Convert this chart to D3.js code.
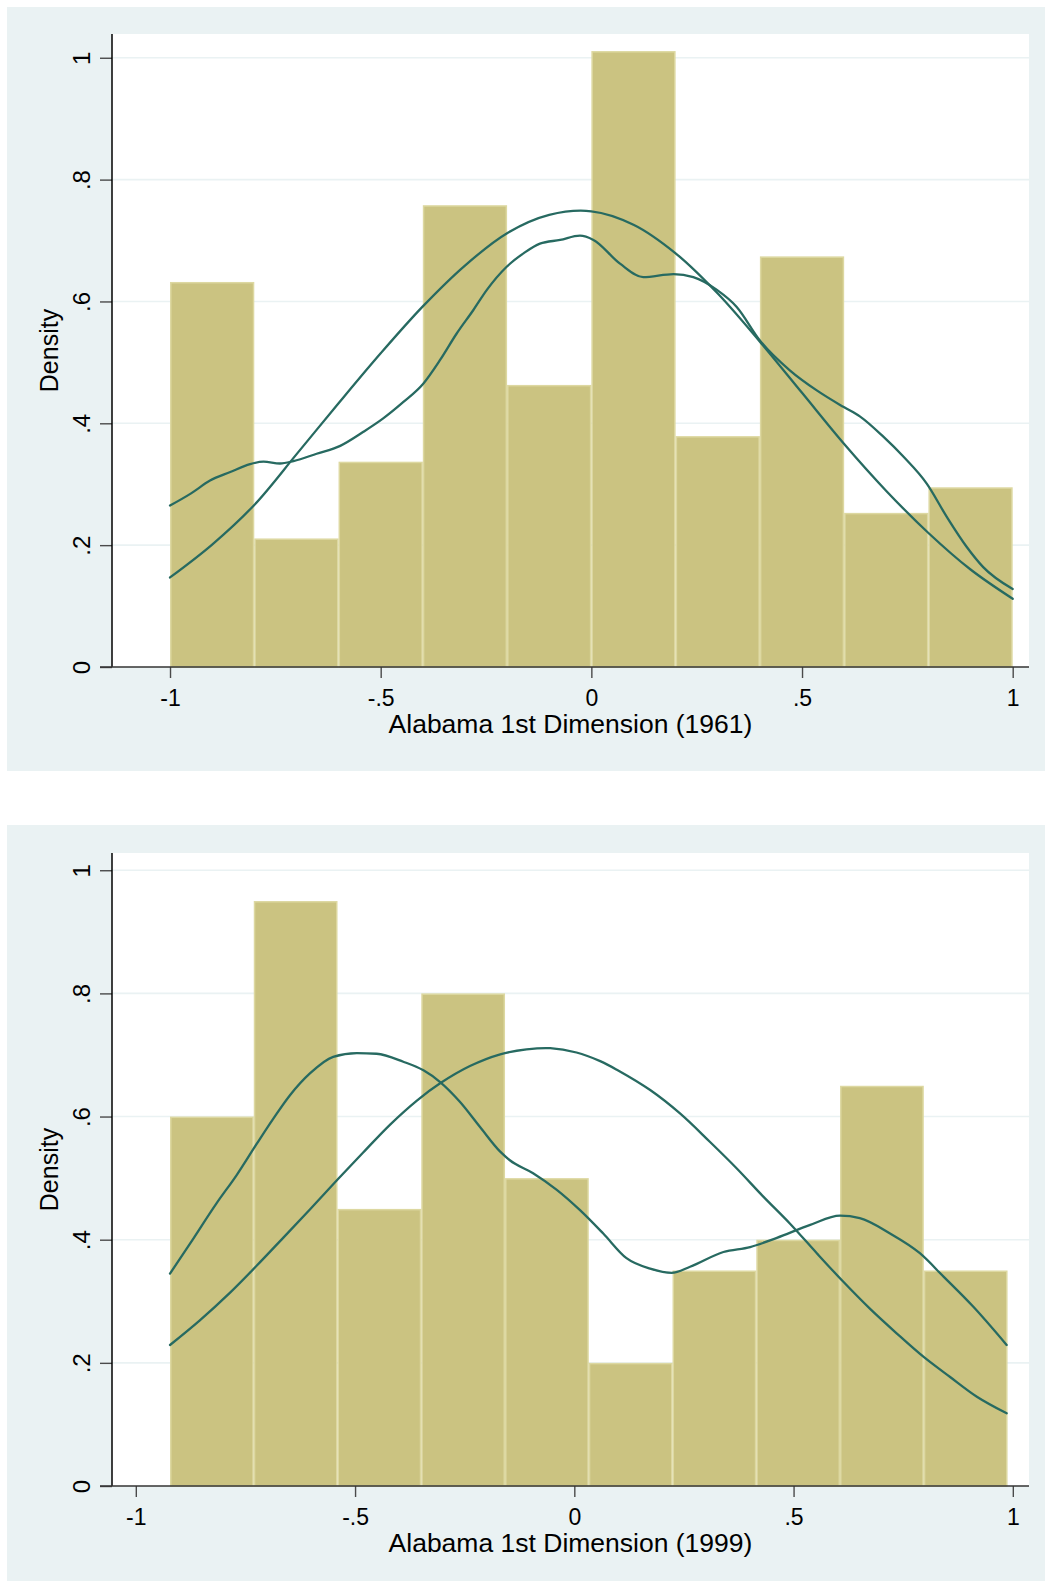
<!DOCTYPE html>
<html>
<head>
<meta charset="utf-8">
<script src="https://cdn.jsdelivr.net/npm/d3@7"></script>
<style>
  html, body { margin: 0; padding: 0; background: #ffffff; }
  svg { display: block; }
  text { font-family: "Liberation Sans", Arial, Helvetica, sans-serif; fill: #000; }
</style>
</head>
<body>
<svg id="chart" width="1045" height="1581"></svg>
<script>
// ---------------- DATA ----------------
const xTickValues = [-1, -0.5, 0, 0.5, 1];
const xTickLabels = ["-1", "-.5", "0", ".5", "1"];
const yTickValues = [0, 0.2, 0.4, 0.6, 0.8, 1];
const yTickLabels = ["0", ".2", ".4", ".6", ".8", "1"];

// 1961 histogram
const binEdges1961 = [-1, -0.8, -0.6, -0.4, -0.2, 0, 0.2, 0.4, 0.6, 0.8, 1];
const density1961 = [0.632, 0.211, 0.337, 0.758, 0.463, 1.011, 0.379, 0.674, 0.253, 0.295];

// 1961 normal density overlay
const normalX1961 = [-1, -0.9, -0.8, -0.7, -0.6, -0.5, -0.4, -0.3, -0.2, -0.1, 0, 0.1, 0.2, 0.3, 0.4, 0.5, 0.6, 0.7, 0.8, 0.9, 1];
const normalY1961 = [0.147, 0.201, 0.266, 0.349, 0.433, 0.515, 0.592, 0.659, 0.712, 0.742, 0.748, 0.726, 0.679, 0.613, 0.534, 0.450, 0.366, 0.289, 0.220, 0.160, 0.112];

// 1961 kernel density overlay
const kernelX1961 = [-1, -0.95, -0.905, -0.857, -0.81, -0.778, -0.739, -0.707, -0.652, -0.596, -0.541, -0.494, -0.446, -0.399, -0.359, -0.32, -0.28, -0.248, -0.201, -0.161, -0.122, -0.074, -0.027, 0.005, 0.068, 0.123, 0.195, 0.242, 0.298, 0.345, 0.4, 0.471, 0.535, 0.598, 0.638, 0.693, 0.741, 0.796, 0.844, 0.891, 0.93, 1];
const kernelY1961 = [0.265, 0.285, 0.306, 0.320, 0.333, 0.337, 0.334, 0.338, 0.350, 0.363, 0.386, 0.408, 0.435, 0.465, 0.504, 0.547, 0.586, 0.619, 0.657, 0.679, 0.695, 0.701, 0.708, 0.701, 0.662, 0.640, 0.645, 0.640, 0.619, 0.591, 0.536, 0.487, 0.454, 0.427, 0.411, 0.378, 0.345, 0.301, 0.246, 0.197, 0.164, 0.128];

// 1999 histogram
const binEdges1999 = [-0.922, -0.731, -0.540, -0.349, -0.158, 0.033, 0.224, 0.415, 0.606, 0.797, 0.988];
const density1999 = [0.60, 0.95, 0.45, 0.80, 0.50, 0.20, 0.35, 0.40, 0.65, 0.35];

// 1999 normal density overlay
const normalX1999 = [-0.922, -0.854, -0.785, -0.724, -0.664, -0.603, -0.542, -0.481, -0.42, -0.359, -0.306, -0.238, -0.169, -0.109, -0.055, 0.005, 0.059, 0.097, 0.173, 0.241, 0.309, 0.37, 0.431, 0.492, 0.553, 0.613, 0.674, 0.735, 0.796, 0.857, 0.918, 0.986];
const normalY1999 = [0.229, 0.269, 0.314, 0.358, 0.403, 0.449, 0.496, 0.542, 0.587, 0.626, 0.654, 0.682, 0.701, 0.709, 0.711, 0.704, 0.690, 0.676, 0.643, 0.605, 0.559, 0.516, 0.470, 0.426, 0.378, 0.332, 0.288, 0.248, 0.210, 0.177, 0.145, 0.118];

// 1999 kernel density overlay
const kernelX1999 = [-0.922, -0.876, -0.816, -0.77, -0.724, -0.686, -0.648, -0.603, -0.55, -0.496, -0.451, -0.39, -0.344, -0.306, -0.261, -0.215, -0.169, -0.147, -0.094, -0.04, 0.013, 0.066, 0.119, 0.173, 0.222, 0.264, 0.34, 0.401, 0.462, 0.538, 0.606, 0.651, 0.72, 0.788, 0.842, 0.91, 0.986];
const kernelY1999 = [0.345, 0.394, 0.459, 0.505, 0.556, 0.597, 0.635, 0.670, 0.697, 0.703, 0.702, 0.689, 0.675, 0.656, 0.624, 0.583, 0.543, 0.529, 0.508, 0.481, 0.448, 0.410, 0.370, 0.353, 0.346, 0.356, 0.380, 0.388, 0.403, 0.424, 0.439, 0.435, 0.410, 0.378, 0.340, 0.291, 0.229];

const panels = [
  { title: "Alabama 1st Dimension (1961)", edges: binEdges1961, dens: density1961,
    normalX: normalX1961, normalY: normalY1961, kernelX: kernelX1961, kernelY: kernelY1961 },
  { title: "Alabama 1st Dimension (1999)", edges: binEdges1999, dens: density1999,
    normalX: normalX1999, normalY: normalY1999, kernelX: kernelX1999, kernelY: kernelY1999 }
];

// ---------------- LAYOUT ----------------
const layout = [
  { bg: [7, 7, 1038, 764], plot: { left: 112, right: 1029, top: 34, bottom: 667 },
    xDomain: [-1.1377, 1.0387], yDomain: [0, 1.039] },
  { bg: [7, 825, 1038, 756], plot: { left: 112, right: 1029, top: 853, bottom: 1486 },
    xDomain: [-1.0543, 1.0369], yDomain: [0, 1.028] }
];

const COLORS = {
  bg: "#eaf2f3", grid: "#eaf2f3", bar: "#cbc381", barEdge: "#ddd8a1",
  line: "#276a61", axis: "#000000", tick: "#4a4a4a"
};

const svg = d3.select("#chart");

panels.forEach((p, i) => {
  const L = layout[i];
  const P = L.plot;
  const g = svg.append("g");

  g.append("rect").attr("x", L.bg[0]).attr("y", L.bg[1]).attr("width", L.bg[2]).attr("height", L.bg[3])
    .attr("fill", COLORS.bg);
  g.append("rect").attr("x", P.left).attr("y", P.top).attr("width", P.right - P.left).attr("height", P.bottom - P.top)
    .attr("fill", "#ffffff");

  const x = d3.scaleLinear().domain(L.xDomain).range([P.left, P.right]);
  const y = d3.scaleLinear().domain(L.yDomain).range([P.bottom, P.top]);

  // grid
  g.append("g").selectAll("line").data(yTickValues.filter(v => v > 0)).join("line")
    .attr("x1", P.left).attr("x2", P.right)
    .attr("y1", d => y(d)).attr("y2", d => y(d))
    .attr("stroke", COLORS.grid).attr("stroke-width", 1.6);

  // bars
  const bins = p.dens.map((d, k) => ({ x0: p.edges[k], x1: p.edges[k + 1], v: d }));
  g.append("g").selectAll("rect").data(bins).join("rect")
    .attr("x", d => x(d.x0) + 0.75)
    .attr("width", d => x(d.x1) - x(d.x0) - 1.5)
    .attr("y", d => y(d.v) + 0.75)
    .attr("height", d => y(0) - y(d.v) - 0.75)
    .attr("fill", COLORS.bar)
    .attr("stroke", COLORS.barEdge).attr("stroke-width", 1.5);

  // density lines
  const kLine = d3.line().x(d => x(d[0])).y(d => y(d[1])).curve(d3.curveMonotoneX);
  const nLine = d3.line().x(d => x(d[0])).y(d => y(d[1])).curve(d3.curveCatmullRom.alpha(0.5));
  const kern = p.kernelX.map((v, k) => [v, p.kernelY[k]]);
  const norm = p.normalX.map((v, k) => [v, p.normalY[k]]);
  [[kern, kLine], [norm, nLine]].forEach(([arr, gen]) => {
    g.append("path").datum(arr).attr("d", gen)
      .attr("fill", "none").attr("stroke", COLORS.line).attr("stroke-width", 2.3)
      .attr("stroke-linejoin", "round").attr("stroke-linecap", "round");
  });

  // y axis
  const yAxis = d3.axisLeft(y).tickValues(yTickValues).tickSize(12).tickFormat((d, k) => yTickLabels[k]);
  const ya = g.append("g").attr("transform", `translate(${P.left},0)`).call(yAxis);
  ya.select(".domain").remove();
  ya.selectAll(".tick line").attr("stroke", COLORS.tick).attr("stroke-width", 1.4);
  ya.selectAll(".tick text")
    .attr("x", null).attr("dy", null)
    .attr("text-anchor", "middle")
    .attr("transform", "translate(-22,0) rotate(-90)")
    .style("font-size", "24px").style("font-family", "'Liberation Sans', Arial, sans-serif")
    .attr("fill", "#000");
  g.append("line").attr("x1", P.left).attr("x2", P.left).attr("y1", P.top).attr("y2", P.bottom)
    .attr("stroke", COLORS.axis).attr("stroke-width", 1.5);

  // x axis
  const xAxis = d3.axisBottom(x).tickValues(xTickValues).tickSize(11).tickFormat((d, k) => xTickLabels[k]);
  const xa = g.append("g").attr("transform", `translate(0,${P.bottom})`).call(xAxis);
  xa.select(".domain").remove();
  xa.selectAll(".tick line").attr("stroke", COLORS.tick).attr("stroke-width", 1.4);
  xa.selectAll(".tick text")
    .attr("y", 39).attr("dy", null)
    .style("font-size", "23px").style("font-family", "'Liberation Sans', Arial, sans-serif")
    .attr("fill", "#000");
  g.append("line").attr("x1", P.left - 12).attr("x2", P.right).attr("y1", P.bottom).attr("y2", P.bottom)
    .attr("stroke", "#333333").attr("stroke-width", 1.5);

  // titles
  g.append("text").attr("x", (P.left + P.right) / 2).attr("y", P.bottom + 66)
    .attr("text-anchor", "middle").style("font-size", "26.5px").text(p.title);
  g.append("text")
    .attr("transform", `translate(58,${(P.top + P.bottom) / 2}) rotate(-90)`)
    .attr("text-anchor", "middle").style("font-size", "25px").text("Density");
});
</script>
</body>
</html>
